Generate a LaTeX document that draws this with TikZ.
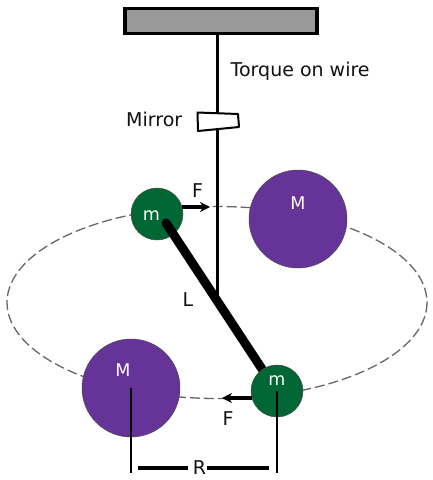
\documentclass[tikz,border=0pt]{standalone}
\usepackage{fontspec}
\setmainfont{DejaVu Sans}
\usetikzlibrary{arrows.meta}
\definecolor{massgreen}{HTML}{006633}
\definecolor{masspurple}{HTML}{663399}
\definecolor{bargray}{HTML}{999999}
\definecolor{orbitgray}{HTML}{666666}
\definecolor{inktext}{HTML}{111111}
\tikzset{
  bigmass/.style={circle,fill=masspurple,draw=black!70,line width=0.5pt,minimum size=98pt,inner sep=0pt},
  smallmass/.style={circle,fill=massgreen,draw=black!70,line width=0.5pt,minimum size=52pt,inner sep=0pt},
  lbl/.style={font=\fontsize{19}{22}\selectfont,text=inktext,inner sep=0pt},
  masslbl/.style={font=\fontsize{17.5}{20}\selectfont,text=white,inner sep=0pt},
  wire/.style={line width=3pt,black},
  rod/.style={line width=9pt,black,line cap=round},
  force/.style={line width=3.5pt,black,-{Stealth[length=10pt,width=10pt]}},
  thinline/.style={line width=2.4pt,black},
  spanline/.style={line width=3.4pt,black},
  orbit/.style={orbitgray,line width=1.3pt,dash pattern=on 10pt off 4pt}
}
\begin{document}
\begin{tikzpicture}[x=1pt,y=-1pt]
\useasboundingbox (0,0) rectangle (433,480);
% orbit
\draw[orbit] (217,302.5) ellipse [x radius=210, y radius=96];
% support
\node[draw=black,line width=3.2pt,fill=bargray,minimum width=192pt,minimum height=25pt,inner sep=0pt] (bar) at (221,21) {};
\coordinate (pivot) at (217,300);
\draw[wire] (pivot |- bar.south) -- (pivot);
% mirror
\draw[fill=white,draw=black,line width=2pt,line join=round] (197.5,112.5) -- (238,114) -- (239,127) -- (198,131) -- cycle;
\node[lbl,anchor=base west] (torque) at (230.5,76) {Torque on wire};
\node[lbl,anchor=base west] (mirror) at (126,126.5) {Mirror};
% masses
\node[bigmass] (M1) at (298,219) {};
\node[bigmass] (M2) at (131,388) {};
\node[smallmass] (m1) at (157,214) {};
\coordinate (rodA) at (166,223);
\coordinate (rodB) at (262,369);
\draw[rod] (rodA) -- (rodB);
\node[smallmass] (m2) at (277,391) {};
\node[masslbl,anchor=base] at (151.5,220.5) {m};
\node[masslbl,anchor=base] at (277,385) {m};
\node[masslbl,anchor=base] at (298,209.5) {M};
\node[masslbl,anchor=base] at (123,376.5) {M};
% forces
\coordinate (f1) at (210,207);
\coordinate (f2) at (222,398);
\draw[force] (m1.east |- f1) ++(-1,0) -- (f1);
\draw[force] (m2.west |- f2) ++(1,0) -- (f2);
\node[lbl,anchor=base] (F1) at (197.5,197.5) {F};
\node[lbl,anchor=base] (F2) at (228,425.5) {F};
\node[lbl,anchor=base] (L) at (188,306.5) {L};
% distance R
\coordinate (d1) at (131,473);
\coordinate (d2) at (277,473);
\draw[thinline] (M2.center) -- (d1);
\draw[thinline] (m2.center) -- (d2);
\node[lbl,anchor=base] (R) at (199.5,474.5) {R};
\draw[spanline] (138,468) -- (188,468);
\draw[spanline] (207,468) -- (269,468);
\end{tikzpicture}
\end{document}
